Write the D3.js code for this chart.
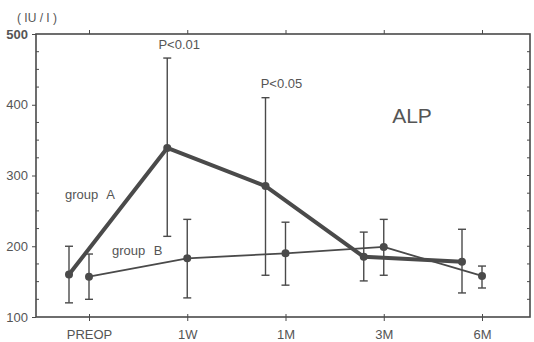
<!DOCTYPE html>
<html lang="en">
<head>
<meta charset="UTF-8">
<title>ALP</title>
<script src="https://d3js.org/d3.v7.min.js"></script>
<style>
  body { margin: 0; background: #fff; }
  svg { display: block; }
  text { font-family: "Liberation Sans", Arial, sans-serif; fill: #555; }
</style>
</head>
<body>
<div id="chart"></div>
<script>
const categories = ["PREOP", "1W", "1M", "3M", "6M"];
const yTicks = [100, 200, 300, 400, 500];

// group A (thick line): mean, lower and upper error bar ends
const groupA = [160, 339, 285, 185, 178];
const groupALow = [120, 214, 159, 151, 134];
const groupAHigh = [200, 466, 410, 220, 224];

// group B (thin line)
const groupB = [157, 183, 190, 199, 158];
const groupBLow = [125, 127, 145, 159, 141];
const groupBHigh = [189, 238, 234, 238, 172];

const width = 534, height = 342;
const margin = {top: 34, right: 4, bottom: 25, left: 36};
const x0 = margin.left, x1 = width - margin.right;
const y0 = margin.top, y1 = height - margin.bottom;

const svg = d3.select("#chart").append("svg")
    .attr("width", width)
    .attr("height", height);

const x = d3.scalePoint()
    .domain(categories)
    .range([x0 + 53, x1 - 48]);

const y = d3.scaleLinear()
    .domain([100, 500])
    .range([y1, y0]);

const offsetA = -20;
const ink = "#4a4a4a";

// frame
svg.append("rect")
    .attr("x", x0).attr("y", y0)
    .attr("width", x1 - x0).attr("height", y1 - y0)
    .attr("fill", "none")
    .attr("stroke", ink)
    .attr("stroke-width", 1.6);

// bottom axis
const bottomAxis = svg.append("g")
    .attr("transform", `translate(0,${y1})`)
    .call(d3.axisBottom(x).tickSize(4).tickPadding(9));
bottomAxis.select(".domain").remove();
bottomAxis.selectAll("line").attr("stroke", ink).attr("y1", -3).attr("y2", 4);
bottomAxis.selectAll("text").attr("font-size", 13).attr("fill", "#555");

// top axis ticks
const topAxis = svg.append("g")
    .attr("transform", `translate(0,${y0})`)
    .call(d3.axisTop(x).tickSize(4).tickFormat(""));
topAxis.select(".domain").remove();
topAxis.selectAll("line").attr("stroke", ink);

// left axis
const leftAxis = svg.append("g")
    .attr("transform", `translate(${x0},0)`)
    .call(d3.axisLeft(y).tickValues(yTicks).tickSize(4).tickPadding(4));
leftAxis.select(".domain").remove();
leftAxis.selectAll("line").attr("stroke", ink);
leftAxis.selectAll("text")
    .attr("font-size", 13)
    .attr("fill", d => d === 500 ? "#111" : "#555")
    .attr("font-weight", d => d === 500 ? "bold" : "normal");

// minor ticks on both sides (every 25)
const minor = d3.range(125, 500, 25).filter(d => d % 100 !== 0);
svg.append("g").selectAll("line")
    .data(minor)
    .join("line")
    .attr("x1", x0).attr("x2", x0 + 3)
    .attr("y1", d => y(d)).attr("y2", d => y(d))
    .attr("stroke", ink);

svg.append("g").selectAll("line")
    .data(d3.range(125, 500, 25))
    .join("line")
    .attr("x1", x1).attr("x2", x1 - 3)
    .attr("y1", d => y(d)).attr("y2", d => y(d))
    .attr("stroke", ink);

// unit label
svg.append("text")
    .attr("x", 17).attr("y", 22)
    .attr("font-size", 12)
    .attr("fill", "#222")
    .text("( IU / I )");

function drawGroup(mean, low, high, dx, lineWidth) {
    const g = svg.append("g");
    const px = (d, i) => x(categories[i]) + dx;

    g.selectAll("line.bar")
        .data(mean)
        .join("line")
        .attr("class", "bar")
        .attr("x1", px).attr("x2", px)
        .attr("y1", (d, i) => y(low[i]))
        .attr("y2", (d, i) => y(high[i]))
        .attr("stroke", ink)
        .attr("stroke-width", 1.4);

    const caps = low.map((d, i) => ({v: d, i})).concat(high.map((d, i) => ({v: d, i})));
    g.selectAll("line.cap")
        .data(caps)
        .join("line")
        .attr("class", "cap")
        .attr("x1", d => px(0, d.i) - 4).attr("x2", d => px(0, d.i) + 4)
        .attr("y1", d => y(d.v)).attr("y2", d => y(d.v))
        .attr("stroke", ink)
        .attr("stroke-width", 1.4);

    g.append("path")
        .datum(mean)
        .attr("fill", "none")
        .attr("stroke", ink)
        .attr("stroke-width", lineWidth)
        .attr("stroke-linejoin", "round")
        .attr("d", d3.line().x(px).y(d => y(d)));

    g.selectAll("circle")
        .data(mean)
        .join("circle")
        .attr("cx", px)
        .attr("cy", d => y(d))
        .attr("r", 4)
        .attr("fill", ink);
}

drawGroup(groupB, groupBLow, groupBHigh, 0, 1.8);
drawGroup(groupA, groupALow, groupAHigh, offsetA, 4);

// annotations
svg.append("text")
    .attr("x", x("1W") + offsetA + 12).attr("y", 49)
    .attr("text-anchor", "middle")
    .attr("font-size", 13)
    .text("P<0.01");

svg.append("text")
    .attr("x", x("1M") + offsetA + 16).attr("y", 88)
    .attr("text-anchor", "middle")
    .attr("font-size", 13)
    .text("P<0.05");

svg.append("text")
    .attr("x", 412).attr("y", 123)
    .attr("text-anchor", "middle")
    .attr("font-size", 21)
    .text("ALP");

svg.append("text")
    .attr("x", 65).attr("y", 199)
    .attr("font-size", 13)
    .attr("word-spacing", 5)
    .text("group A");

svg.append("text")
    .attr("x", 112).attr("y", 255)
    .attr("font-size", 13)
    .attr("word-spacing", 5)
    .text("group B");
</script>
</body>
</html>
